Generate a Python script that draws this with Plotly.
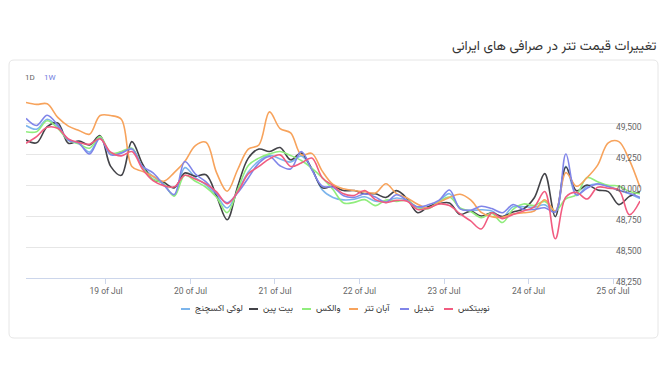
import pandas as pd
import plotly.graph_objects as go

# ---------------- data ----------------
series_names = ["لوکی اکسچنج", "بیت پین", "والکس", "آبان تتر", "تبدیل", "نوبیتکس"]
series_colors = ["#7cb5ec", "#434348", "#90ed7d", "#f7a35c", "#8085e9", "#f15c80"]

lukie = [49480, 49450, 49530, 49470, 49360, 49335, 49265, 49385, 49250, 49262,
         49295, 49145, 49070, 49005, 48915, 49140, 49060, 49000, 48915, 48815,
         48950, 49105, 49195, 49240, 49210, 49185, 49235, 49130, 48960, 48900,
         48880, 48885, 48905, 48870, 48870, 48895, 48875, 48820, 48825, 48870,
         48930, 48812, 48795, 48800, 48790, 48740, 48825, 48825, 48820, 48840,
         48785, 49150, 48915, 48990, 49010, 48990, 48960, 48930, 48890]
bitpin = [49363, 49340, 49470, 49500, 49337, 49355, 49323, 49398, 49150, 49078,
          49350, 49170, 49043, 49022, 48977, 49097, 49070, 49083, 48910, 48720,
          48990, 49217, 49290, 49270, 49302, 49203, 49257, 49130, 48977, 48990,
          48955, 48955, 48929, 48929, 48900, 48955, 48890, 48776, 48824, 48850,
          48855, 48763, 48789, 48750, 48776, 48745, 48782, 48808, 48895, 49092,
          48745, 49145, 48953, 49000, 48960, 48947, 48842, 48908, 48947]
wallex = [49430, 49430, 49518, 49457, 49363, 49332, 49297, 49390, 49257, 49270,
          49297, 49142, 49048, 49011, 48910, 49078, 49030, 48982, 48902, 48777,
          48963, 49158, 49217, 49251, 49270, 49238, 49198, 49137, 49057, 48963,
          48855, 48860, 48882, 48834, 48879, 48868, 48876, 48816, 48808, 48863,
          48903, 48816, 48787, 48737, 48771, 48697, 48803, 48847, 48834, 48868,
          48790, 48889, 48921, 49060, 49026, 48997, 48992, 48947, 48929]
abantether = [49665, 49650, 49655, 49545, 49475, 49440, 49410, 49560, 49560, 49530,
              49150, 49110, 49070, 49030, 49100, 49190, 49318, 49345, 49100, 48950,
              49125, 49290, 49323, 49590, 49455, 49420, 49243, 49255, 49110, 49005,
              48970, 48955, 48945, 48935, 49010, 48930, 48895, 48845, 48815, 48860,
              48900, 48925, 48880, 48780, 48745, 48740, 48765, 48776, 48790, 48880,
              48790, 49100, 48990, 49060, 49160, 49340, 49350, 49200, 48980]
tabdeal = [49537, 49480, 49563, 49483, 49363, 49337, 49250, 49377, 49243, 49257,
           49290, 49150, 49097, 49003, 48923, 49190, 49088, 49025, 48930, 48857,
           48937, 49057, 49177, 49230, 49155, 49130, 49270, 49123, 48990, 48982,
           48913, 48900, 48929, 48903, 48860, 48921, 48874, 48824, 48840, 48876,
           48960, 48808, 48797, 48829, 48810, 48776, 48842, 48803, 48803, 48816,
           48782, 49250, 48921, 48974, 49008, 48987, 48955, 48934, 48900]
nobitex = [49337, 49390, 49465, 49457, 49372, 49342, 49329, 49372, 49265, 49235,
           49270, 49129, 49035, 48995, 48985, 49078, 49048, 49009, 48945, 48849,
           48945, 49091, 49150, 49211, 49243, 49150, 49177, 49217, 49057, 48995,
           48929, 48916, 48955, 48882, 48858, 48876, 48868, 48803, 48813, 48847,
           48834, 48768, 48710, 48645, 48776, 48729, 48763, 48790, 48824, 48947,
           48566, 48903, 48940, 48887, 48982, 48974, 48960, 48760, 48870]

series_values = [lukie, bitpin, wallex, abantether, tabdeal, nobitex]

start_time = "2024-07-18 01:17"
end_time = "2024-07-25 07:40"
times = pd.date_range(start_time, end_time, periods=len(lukie))

x_tick_dates = ["2024-07-19", "2024-07-20", "2024-07-21", "2024-07-22",
                "2024-07-23", "2024-07-24", "2024-07-25"]
x_tick_labels = ["19 of Jul", "20 of Jul", "21 of Jul", "22 of Jul",
                 "23 of Jul", "24 of Jul", "25 of Jul"]
y_tick_vals = [48250, 48500, 48750, 49000, 49250, 49500, 49750]
y_tick_labels = ["48,250", "48,500", "48,750", "49,000", "49,250", "49,500", ""]

title_text = "تغییرات قیمت تتر در صرافی های ایرانی"
range_buttons = ["1D", "1W"]

# ---------------- figure ----------------
W, H = 667, 375
L, R, T, B = 26, 27, 92, 97
PW, PH = W - L - R, H - T - B

def px_x(px):
    return (px - L) / PW

def px_y(py):
    return (H - B - py) / PH

fig = go.Figure()
for name, color, vals in zip(series_names, series_colors, series_values):
    fig.add_trace(go.Scatter(
        x=times, y=vals, name=name, mode="lines",
        line=dict(color=color, width=1.6, shape="spline", smoothing=1.0),
        showlegend=False,
    ))

persian_font = "Vazirmatn, 'Noto Sans Arabic', 'DejaVu Sans', sans-serif"
latin_font = "Roboto, 'Open Sans', sans-serif"

shapes = []
# card with rounded corners
cx0, cx1 = px_x(9), px_x(658)
cy0, cy1 = px_y(338), px_y(60)
rx, ry = 5 / PW, 5 / PH
path = (f"M {cx0+rx},{cy1} L {cx1-rx},{cy1} Q {cx1},{cy1} {cx1},{cy1-ry} "
        f"L {cx1},{cy0+ry} Q {cx1},{cy0} {cx1-rx},{cy0} "
        f"L {cx0+rx},{cy0} Q {cx0},{cy0} {cx0},{cy0+ry} "
        f"L {cx0},{cy1-ry} Q {cx0},{cy1} {cx0+rx},{cy1} Z")
shapes.append(dict(type="path", xref="paper", yref="paper", path=path,
                   line=dict(color="#e6e6e6", width=1), layer="below"))

annotations = []
annotations.append(dict(
    text=title_text, xref="paper", yref="paper",
    x=px_x(658), y=px_y(46), xanchor="right", yanchor="middle",
    showarrow=False, font=dict(family=persian_font, size=13.5, color="#333333"),
))
annotations.append(dict(
    text=range_buttons[0], xref="paper", yref="paper",
    x=px_x(23), y=px_y(77), xanchor="left", yanchor="middle",
    showarrow=False, font=dict(family=latin_font, size=8, color="#666666"),
))
annotations.append(dict(
    text=range_buttons[1], xref="paper", yref="paper",
    x=px_x(42), y=px_y(77), xanchor="left", yanchor="middle",
    showarrow=False, font=dict(family=latin_font, size=8, color="#6f7be0"),
))

# legend (symbol on the left, label on the right)
legend_dash_px = [181, 249, 302, 349, 400, 444]
leg_y = px_y(309)
for name, color, dx in zip(series_names, series_colors, legend_dash_px):
    shapes.append(dict(type="line", xref="paper", yref="paper",
                       x0=px_x(dx), x1=px_x(dx + 9), y0=leg_y, y1=leg_y,
                       line=dict(color=color, width=2)))
    annotations.append(dict(
        text=name, xref="paper", yref="paper",
        x=px_x(dx + 12), y=leg_y, xanchor="left", yanchor="middle",
        showarrow=False, font=dict(family=persian_font, size=9, color="#333333"),
    ))

fig.update_layout(
    width=W, height=H,
    margin=dict(l=L, r=R, t=T, b=B, pad=0),
    paper_bgcolor="white", plot_bgcolor="white",
    showlegend=False,
    shapes=shapes, annotations=annotations,
    xaxis=dict(
        type="date", range=[times[0], times[-1]],
        tickvals=x_tick_dates, ticktext=x_tick_labels,
        showgrid=False, zeroline=False,
        showline=True, linecolor="#ccd6eb", linewidth=1,
        ticks="outside", ticklen=5, tickcolor="#ccd6eb",
        tickfont=dict(family=latin_font, size=8.5, color="#666666"),
        automargin=False,
    ),
    yaxis=dict(
        side="right", range=[48250, 49750],
        tickvals=y_tick_vals, ticktext=y_tick_labels,
        ticklabelposition="outside", ticklabelstandoff=-25, ticklabelshift=4,
        showgrid=True, gridcolor="#e6e6e6", gridwidth=1,
        zeroline=False, showline=False, ticks="",
        tickfont=dict(family=latin_font, size=8.5, color="#666666"),
        automargin=False,
    ),
)

fig.write_html(
    "out.html",
    config={"responsive": False, "displayModeBar": False},
    post_script="document.documentElement.style.margin='0';"
                "document.body.style.margin='0';"
                "document.body.style.overflow='hidden';",
)
